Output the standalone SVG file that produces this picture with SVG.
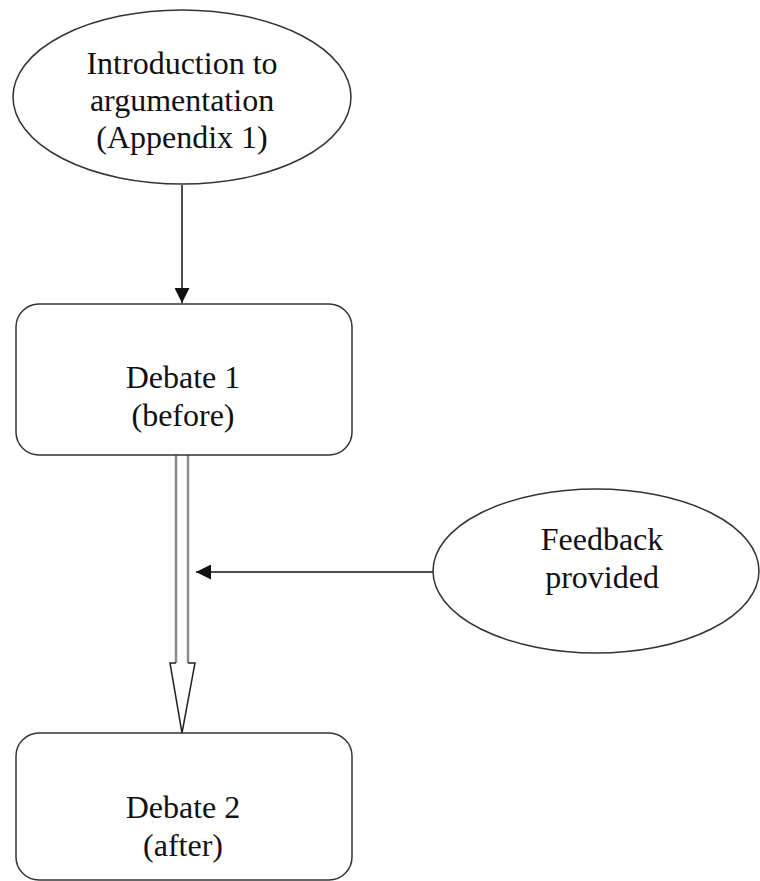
<svg xmlns="http://www.w3.org/2000/svg" width="760" height="881" viewBox="0 0 760 881">
<style>
.shape{fill:#fff;stroke:#333;stroke-width:1.5}
.lbl{font-family:"Liberation Serif","Times New Roman",serif;font-size:32px;fill:#111;text-anchor:middle}
.edge{stroke:#111;stroke-width:1.5;fill:none}
.shaft{stroke:#8a8a8a;stroke-width:2.5;fill:none}
</style>
<defs>
<marker id="arr" markerWidth="15" markerHeight="15" refX="15" refY="7.5" orient="auto" markerUnits="userSpaceOnUse">
<path d="M0,0 L15,7.5 L0,15 Z" fill="#111"/>
</marker>
</defs>
<rect width="760" height="881" fill="#fff"/>
<g id="connectors">
<line class="edge" x1="182" y1="185" x2="182" y2="303" marker-end="url(#arr)"/>
<line class="edge" x1="433" y1="572" x2="196" y2="572" marker-end="url(#arr)"/>
<line class="shaft" x1="176" y1="455" x2="176" y2="664"/>
<line class="shaft" x1="188" y1="455" x2="188" y2="664"/>
<path d="M176,663 H170 L182,733 L195,663 H188" fill="#fff" stroke="#222" stroke-width="1.5"/>
</g>
<g id="intro">
<ellipse class="shape" cx="182" cy="97" rx="169" ry="87"/>
<text class="lbl" x="182" y="74">Introduction to</text>
<text class="lbl" x="182" y="111">argumentation</text>
<text class="lbl" x="182" y="148">(Appendix 1)</text>
</g>
<g id="debate1">
<rect class="shape" x="16" y="304" width="336" height="151" rx="23"/>
<text class="lbl" x="183" y="388">Debate 1</text>
<text class="lbl" x="183" y="426">(before)</text>
</g>
<g id="feedback">
<ellipse class="shape" cx="596" cy="571" rx="163" ry="82"/>
<text class="lbl" x="602" y="550">Feedback</text>
<text class="lbl" x="602" y="588">provided</text>
</g>
<g id="debate2">
<rect class="shape" x="16" y="733" width="336" height="147" rx="23"/>
<text class="lbl" x="183" y="818">Debate 2</text>
<text class="lbl" x="183" y="856">(after)</text>
</g>
</svg>
